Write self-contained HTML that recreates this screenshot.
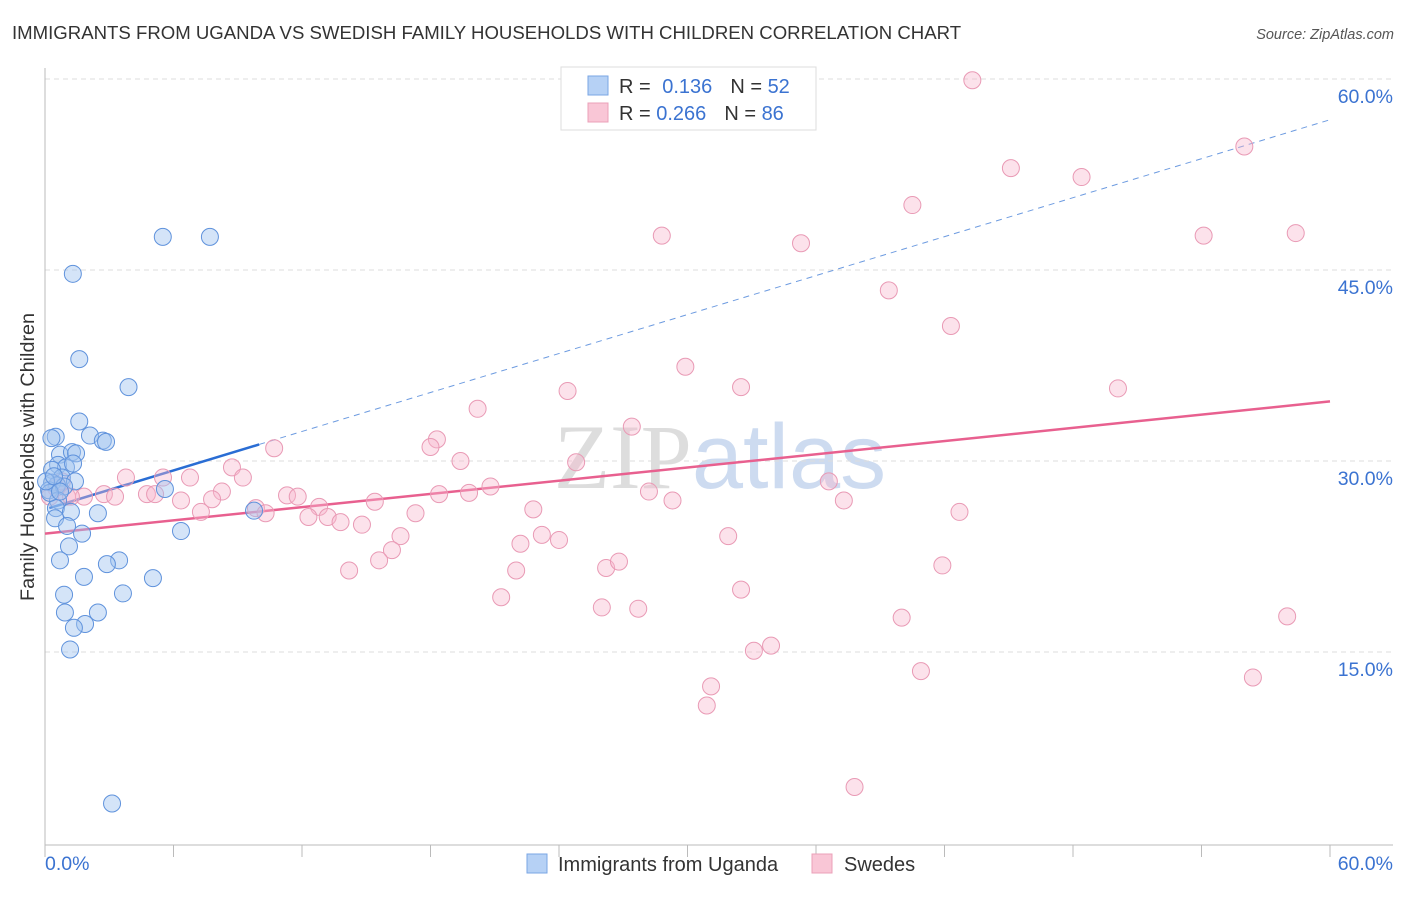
<!DOCTYPE html>
<html><head><meta charset="utf-8"><style>
body{margin:0;background:#fff;font-family:"Liberation Sans",sans-serif;}
svg text{font-family:"Liberation Sans",sans-serif;}
</style></head><body>
<svg id="chart" width="1406" height="892" xmlns="http://www.w3.org/2000/svg">
<text x="12" y="39" font-size="18.6" fill="#333">IMMIGRANTS FROM UGANDA VS SWEDISH FAMILY HOUSEHOLDS WITH CHILDREN CORRELATION CHART</text>
<text x="1394" y="39" font-size="14.5" fill="#555" text-anchor="end" font-style="italic">Source: ZipAtlas.com</text>
<text x="720" y="488" font-size="92" text-anchor="middle" fill="#d8d8d8" opacity="0.7"><tspan font-family="Liberation Serif" fill="#cfcfcf">ZIP</tspan><tspan fill="#b9cdea">atlas</tspan></text>
<text transform="translate(34,457) rotate(-90)" font-size="19.8" fill="#333" text-anchor="middle">Family Households with Children</text>
<g id="grid"></g><g id="axes"></g><g id="lines"></g><g id="pts"></g>
<g>
<rect x="561" y="67" width="255" height="63" fill="#fff" stroke="#ddd"/>
<rect x="588" y="76" width="20" height="19" fill="#b6d1f5" stroke="#7aa6e4"/>
<rect x="588" y="103" width="20" height="19" fill="#f9c6d6" stroke="#eba0b8"/>
<text x="619" y="93" font-size="20" fill="#333">R = <tspan fill="#3b73d1" dx="6">0.136</tspan><tspan fill="#333" dx="18">N = </tspan><tspan fill="#3b73d1">52</tspan></text>
<text x="619" y="120" font-size="20" fill="#333">R = <tspan fill="#3b73d1">0.266</tspan><tspan fill="#333" dx="18">N = </tspan><tspan fill="#3b73d1">86</tspan></text>
</g>
<g>
<rect x="527" y="854" width="20" height="19" fill="#b6d1f5" stroke="#7aa6e4"/>
<text x="558" y="871" font-size="20" fill="#333">Immigrants from Uganda</text>
<rect x="812" y="854" width="20" height="19" fill="#f9c6d6" stroke="#eba0b8"/>
<text x="844" y="871" font-size="20" fill="#333">Swedes</text>
</g>
</svg>
<script>
const yTicks=[15,30,45,60];
const yTickLabels=["15.0%","30.0%","45.0%","60.0%"];
const xTickLabels=["0.0%","60.0%"];
const ugandaX=[5.5,7.7,1.3,1.6,3.9,1.6,0.5,0.3,2.1,2.7,2.85,0.7,1.26,1.45,0.61,0.98,1.31,0.33,0.79,1.4,0.33,0.56,0.19,0.89,0.61,0.51,1.21,2.47,0.47,1.03,1.73,6.35,9.76,1.12,3.46,0.7,2.89,1.82,5.04,3.64,0.89,0.93,2.47,1.87,1.35,1.17,3.13,5.6,0.23,0.05,0.42,0.7];
const ugandaY=[47.6,47.6,44.7,38.0,35.8,33.1,31.9,31.8,32.0,31.6,31.5,30.5,30.7,30.6,29.7,29.5,29.8,29.3,28.7,28.4,28.3,28.1,27.7,28.0,26.9,26.3,26.0,25.9,25.5,24.9,24.3,24.5,26.1,23.3,22.2,22.2,21.9,20.9,20.8,19.6,19.5,18.1,18.1,17.2,16.9,15.2,3.1,27.8,27.5,28.4,28.8,27.6];
const swedesX=[43.3,56.0,45.1,48.4,40.5,28.8,54.1,58.4,35.3,39.4,42.3,29.9,32.5,24.4,50.1,20.2,27.4,18.3,18.0,10.7,19.4,24.8,8.73,36.6,3.78,5.51,9.24,6.77,28.2,18.4,19.8,20.8,11.3,11.8,2.75,3.27,8.26,4.76,5.14,6.35,7.8,1.03,1.82,15.4,12.8,37.3,29.3,22.8,9.85,10.3,7.28,17.3,12.3,13.2,42.7,13.8,14.8,16.6,23.2,24.0,22.2,16.2,15.6,14.2,22.0,26.2,26.8,31.9,41.9,32.5,21.3,26.0,27.7,40.0,58.0,33.9,33.1,40.9,56.4,31.1,30.9,37.8,0.51,0.79,1.21,0.23];
const swedesY=[59.9,54.7,53.0,52.3,50.1,47.7,47.7,47.9,47.1,43.4,40.6,37.4,35.8,35.5,35.7,34.1,32.7,31.7,31.1,31.0,30.0,29.9,29.5,28.4,28.7,28.7,28.7,28.7,27.6,27.4,27.5,28.0,27.3,27.2,27.4,27.2,27.6,27.4,27.4,26.9,27.0,27.2,27.2,26.8,26.4,26.9,26.9,26.2,26.3,25.9,26.0,25.9,25.6,25.6,26.0,25.2,25.0,24.1,24.2,23.8,23.5,23.0,22.2,21.4,21.4,21.6,22.1,24.1,21.8,19.9,19.3,18.5,18.4,17.7,17.8,15.5,15.1,13.5,13.0,12.3,10.8,4.4,27.9,28.4,27.2,27.2];
const ugandaTrend=[26.2,0.51];
const swedesTrend=[24.3,0.173];
const NS="http://www.w3.org/2000/svg";
const X0=45,X1=1330,Y0=843,Y60=79;
function sx(v){return X0+(X1-X0)*v/60;}
function sy(v){return Y0-(Y0-Y60)*v/60;}
function mk(tag,attrs,parent){const e=document.createElementNS(NS,tag);for(const k in attrs)e.setAttribute(k,attrs[k]);document.getElementById(parent).appendChild(e);return e;}
yTicks.forEach((t,i)=>{
 const g=mk('line',{x1:45,x2:1393,y1:sy(t),y2:sy(t),stroke:'#ddd','stroke-dasharray':'5,4'},'grid');
 
 
 const l=mk('text',{x:1393,y:sy(t)+24,'font-size':19.5,fill:'#3b73d1','text-anchor':'end'},'grid');
 l.textContent=yTickLabels[i];
 
 
});
const ax=mk('line',{x1:45,x2:45,y1:68,y2:845,stroke:'#bbb'},'axes');


const bx=mk('line',{x1:45,x2:1393,y1:845,y2:845,stroke:'#bbb'},'axes');


for(let i=0;i<=10;i++){const t=mk('line',{x1:sx(i*6),x2:sx(i*6),y1:845,y2:857,stroke:'#bbb'},'axes');
 
 }
const xl0=mk('text',{x:45,y:870,'font-size':19.5,fill:'#3b73d1'},'axes');xl0.textContent=xTickLabels[0];


const xl1=mk('text',{x:1393,y:870,'font-size':19.5,fill:'#3b73d1','text-anchor':'end'},'axes');xl1.textContent=xTickLabels[1];


function pts(xs,ys,fill,stroke,name){xs.forEach((x,i)=>{const c=mk('circle',{cx:sx(x),cy:sy(ys[i]),r:8.5,fill:fill,stroke:stroke,'stroke-width':1},'pts');
 
 });}
pts(swedesX,swedesY,'rgba(248,182,204,0.4)','#e99ab5','swedes-point');
pts(ugandaX,ugandaY,'rgba(160,196,240,0.45)','#5f92dc','uganda-point');
const ts=mk('line',{x1:sx(0.2),y1:sy(ugandaTrend[0]+ugandaTrend[1]*0.2),x2:sx(10),y2:sy(ugandaTrend[0]+ugandaTrend[1]*10),stroke:'#2a6dd4','stroke-width':2.5},'lines');


const td=mk('line',{x1:sx(10),y1:sy(ugandaTrend[0]+ugandaTrend[1]*10),x2:sx(60),y2:sy(ugandaTrend[0]+ugandaTrend[1]*60),stroke:'#6d9be0','stroke-width':1,'stroke-dasharray':'6,5'},'lines');


const tp=mk('line',{x1:sx(0),y1:sy(swedesTrend[0]),x2:sx(60),y2:sy(swedesTrend[0]+swedesTrend[1]*60),stroke:'#e8608f','stroke-width':2.5},'lines');


</script>
</body></html>
